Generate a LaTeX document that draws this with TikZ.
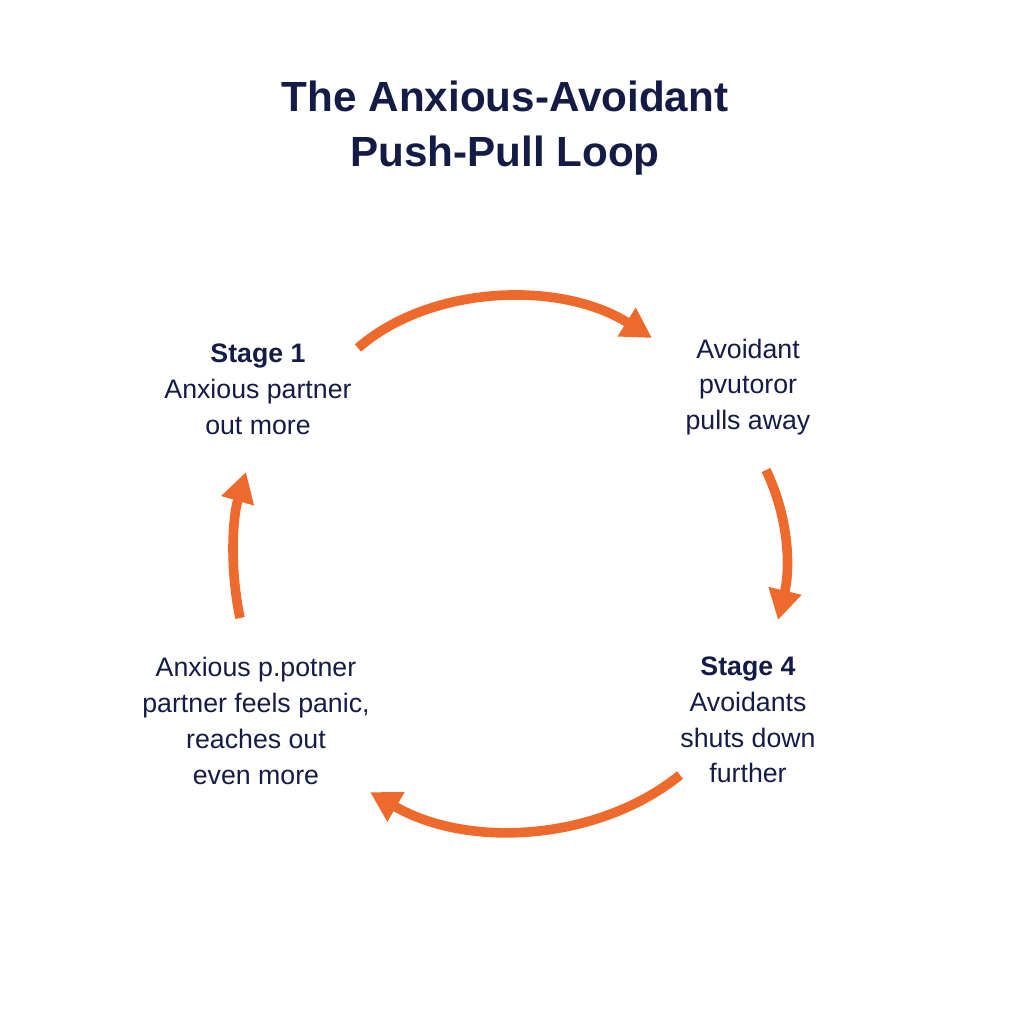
\documentclass[tikz,border=0pt]{standalone}
\usepackage{fontspec}
\setmainfont{Liberation Sans}
\usetikzlibrary{arrows.meta}
\definecolor{navy}{HTML}{141B45}
\definecolor{loop}{HTML}{EE6A2C}
\tikzset{
  stage/.style={align=center, text=navy, font=\fontsize{19}{25.5}\selectfont},
  loop arrow/.style={draw=loop, line width=2.4mm, -{Triangle[length=7.5mm,width=8mm]}}
}
\begin{document}
\begin{tikzpicture}[x=0.025cm,y=-0.025cm]
    \useasboundingbox (0,0) rectangle (1024,1024);

    \node[text=navy, font=\bfseries\fontsize{30}{39}\selectfont, align=center] (title) at (505,128)
        {The Anxious-Avoidant\\Push-Pull Loop};

    \node[stage] (s1) at (258,389) {\textbf{Stage 1}\\Anxious partner\\out more};
    \node[stage] (s2) at (748,387) {Avoidant\\pvutoror\\pulls away};
    \node[stage] (s4) at (748,720) {\textbf{Stage 4}\\Avoidants\\shuts down\\further};
    \node[stage] (s3) at (256,721) {Anxious p.potner\\partner feels panic,\\reaches out\\even more};

    \coordinate (a1) at (358,348);
    \coordinate (b1) at (652,338);
    \coordinate (a2) at (766,470);
    \coordinate (b2) at (778,620);
    \coordinate (a3) at (680,775);
    \coordinate (b3) at (370,792);
    \coordinate (a4) at (240,618);
    \coordinate (b4) at (246,472);

    \draw[loop arrow] (a1) .. controls (430,285) and (560,280) .. (b1);
    \draw[loop arrow] (a2) .. controls (790,520) and (790,570) .. (b2);
    \draw[loop arrow] (a3) .. controls (600,840) and (470,850) .. (b3);
    \draw[loop arrow] (a4) .. controls (230,570) and (232,520) .. (b4);
\end{tikzpicture}
\end{document}
